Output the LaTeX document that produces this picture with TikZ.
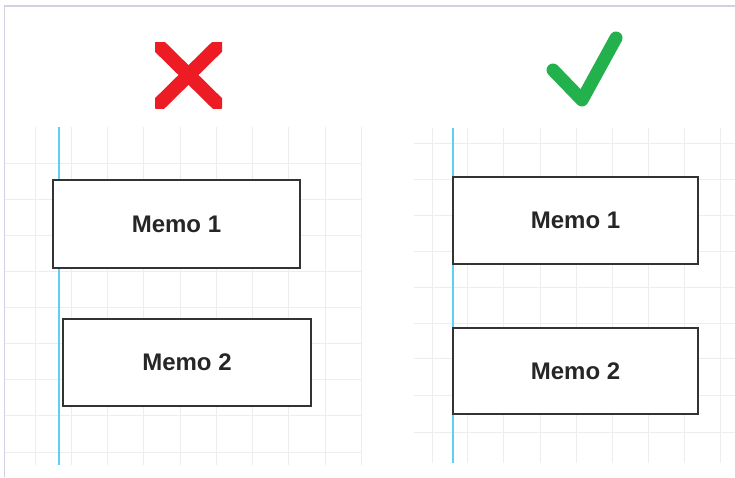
\documentclass[tikz,border=0pt]{standalone}
\usepackage{fontspec}
\setmainfont{Liberation Sans}
\begin{document}
\begin{tikzpicture}[x=1pt,y=-1pt,
  gridline/.style={draw=black!7, line width=1pt},
  guide/.style={draw={rgb,255:red,95;green,208;blue,245}, line width=1.6pt},
  frameline/.style={draw=blue!20!gray!30, line width=1.2pt},
  memo/.style={draw=black!80, line width=1.8pt, fill=white, inner sep=0pt,
    font=\fontsize{24}{26}\selectfont\bfseries, text=black!85},
]
\useasboundingbox[fill=white] (0,0) rectangle (735,477);
% outer frame
\draw[frameline] (4.3,477) -- (4.3,6) -- (735,6);
% left grid
\foreach \gx in {35,71.5,107.5,143.5,180,216,252,288,325,361}
  \draw[gridline] (\gx,127) -- (\gx,465);
\foreach \gy in {163,199,235,271,307,343,379,415,452}
  \draw[gridline] (5,\gy) -- (362,\gy);
% right grid
\foreach \gx in {432,467,503,540,576,612,648,684,720}
  \draw[gridline] (\gx,128) -- (\gx,463);
\foreach \gy in {143,179,215,251,287,323,358,395,432}
  \draw[gridline] (414,\gy) -- (735,\gy);
% guide lines
\coordinate (gl1) at (58.7,127);
\coordinate (gl2) at (58.7,465);
\coordinate (gr1) at (453,128);
\coordinate (gr2) at (453,463);
\draw[guide] (gl1) -- (gl2);
\draw[guide] (gr1) -- (gr2);
% memo boxes
\node[memo, minimum width=247pt, minimum height=88pt] (lm1) at (176.5,224) {Memo 1};
\node[memo, minimum width=248pt, minimum height=87pt] (lm2) at (187,362.5) {Memo 2};
\node[memo, minimum width=245pt, minimum height=87pt] (rm1) at (575.5,220.5) {Memo 1};
\node[memo, minimum width=245pt, minimum height=86pt] (rm2) at (575.5,371) {Memo 2};
% red cross
\begin{scope}
  \clip (155,42) rectangle (222,108);
  \coordinate (xa) at (155,42);
  \coordinate (xb) at (222,108);
  \coordinate (xc) at (222,42);
  \coordinate (xd) at (155,108);
  \draw[draw={rgb,255:red,237;green,28;blue,36}, line width=14pt] (xa) -- (xb);
  \draw[draw={rgb,255:red,237;green,28;blue,36}, line width=14pt] (xc) -- (xd);
\end{scope}
% green check
\coordinate (ca) at (553,70);
\coordinate (cb) at (582,100);
\coordinate (cc) at (616,38);
\draw[draw={rgb,255:red,34;green,177;blue,76}, line width=13pt, line cap=round, line join=round]
  (ca) -- (cb) -- (cc);
\end{tikzpicture}
\end{document}
